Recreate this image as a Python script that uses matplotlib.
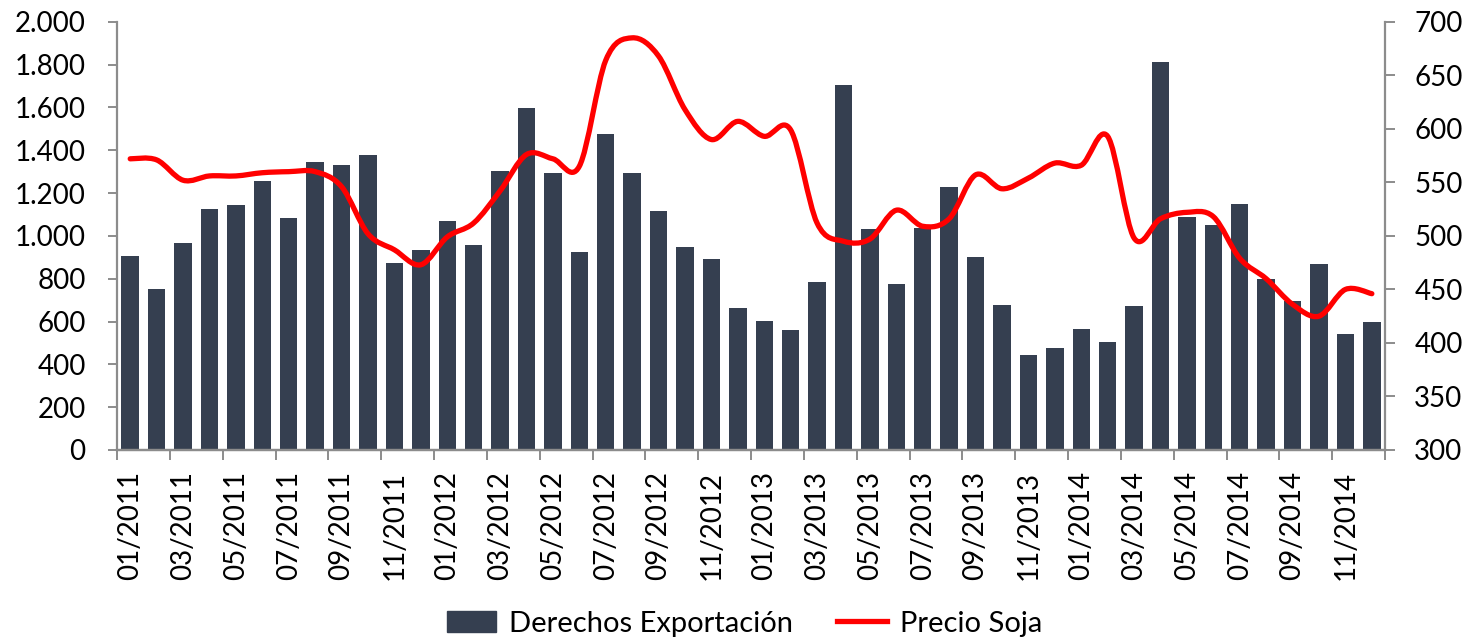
import numpy as np
import matplotlib
matplotlib.use('Agg')
import matplotlib.pyplot as plt
from matplotlib.path import Path
from matplotlib.patches import PathPatch
from matplotlib.lines import Line2D
from matplotlib.patches import Patch

plt.rcParams['font.family'] = ['Lato', 'DejaVu Sans']

# ---------------------------------------------------------
# data (monthly, 01/2011 - 12/2014)
# ---------------------------------------------------------
months = [f'{m:02d}/{y}' for y in range(2011, 2015) for m in range(1, 13)]

derechos = [905, 751, 969, 1124, 1142, 1256, 1084, 1344, 1332, 1379, 872, 935,
            1070, 958, 1302, 1596, 1296, 924, 1477, 1293, 1115, 950, 893, 662,
            601, 561, 785, 1707, 1031, 774, 1039, 1229, 903, 676, 445, 475,
            564, 503, 673, 1813, 1090, 1051, 1148, 798, 696, 869, 543, 597]

soja = [572, 571, 552, 556, 556, 559, 560, 560, 546, 502, 487, 473,
        499, 512, 542, 576, 572, 565, 664, 685, 668, 618, 590, 607,
        593, 599, 512, 495, 497, 524, 509, 516, 557, 544, 554, 568,
        566, 593, 498, 516, 522, 518, 479, 460, 436, 425, 450, 446]

bar_color = '#353f50'
line_color = '#ff0000'
axis_gray = '#8c8c8c'

x = np.arange(len(months))

fig = plt.figure(figsize=(14.68, 6.41), dpi=100)
ax = fig.add_axes([0.0797, 0.298, 0.8638, 0.668])
ax2 = ax.twinx()

ax.bar(x, derechos, width=0.66, color=bar_color, zorder=2)
ax.set_xlim(-0.5, len(months) - 0.5)
ax.set_ylim(0, 2000)
ax.set_yticks(np.arange(0, 2001, 200))
ax.set_yticklabels([f'{v:,}'.replace(',', '.') for v in range(0, 2001, 200)])

# smoothed price line (Catmull-Rom -> cubic bezier segments)
def smooth_path(xs, ys):
    pts = np.column_stack([xs, ys]).astype(float)
    verts = [pts[0]]
    codes = [Path.MOVETO]
    n = len(pts)
    for i in range(n - 1):
        p0 = pts[max(i - 1, 0)]
        p1 = pts[i]
        p2 = pts[i + 1]
        p3 = pts[min(i + 2, n - 1)]
        c1 = p1 + (p2 - p0) / 6.0
        c2 = p2 - (p3 - p1) / 6.0
        verts += [c1, c2, p2]
        codes += [Path.CURVE4] * 3
    return Path(verts, codes)

ax2.add_patch(PathPatch(smooth_path(x, soja), fill=False, edgecolor=line_color,
                        lw=3.8, capstyle='round', joinstyle='round', zorder=3))
ax2.set_ylim(300, 700)
ax2.set_yticks(np.arange(300, 701, 50))

# axes styling
for a in (ax, ax2):
    a.spines['top'].set_visible(False)
    for s in ('left', 'right', 'bottom'):
        a.spines[s].set_color(axis_gray)
        a.spines[s].set_linewidth(1.6)
ax.spines['right'].set_visible(False)
ax2.spines['left'].set_visible(False)
ax.tick_params(axis='y', colors=axis_gray, labelcolor='black', labelsize=20,
               length=6.5, width=1.4, pad=16)
ax2.tick_params(axis='y', colors=axis_gray, labelcolor='black', labelsize=20,
                length=7, width=1.4, pad=14)

# category axis: tick marks between every second month, labels on first month
ax.set_xticks(np.arange(-0.5, len(months), 2))
ax.set_xticklabels([])
ax.set_xticks(x[::2], minor=True)
ax.set_xticklabels(months[::2], minor=True, rotation=90, fontsize=20)
ax.tick_params(axis='x', which='major', colors=axis_gray, length=7, width=1.4)
ax.tick_params(axis='x', which='minor', length=0, pad=15, labelcolor='black')

handles = [Patch(color=bar_color), Line2D([], [], color=line_color, lw=3.8)]
fig.legend(handles, ['Derechos Exportación', 'Precio Soja'], loc='center',
           bbox_to_anchor=(0.507, 0.027), ncol=2, frameon=False, fontsize=21,
           handlelength=1.7, handletextpad=0.45, columnspacing=1.5)

fig.savefig('out.png', dpi=100)
